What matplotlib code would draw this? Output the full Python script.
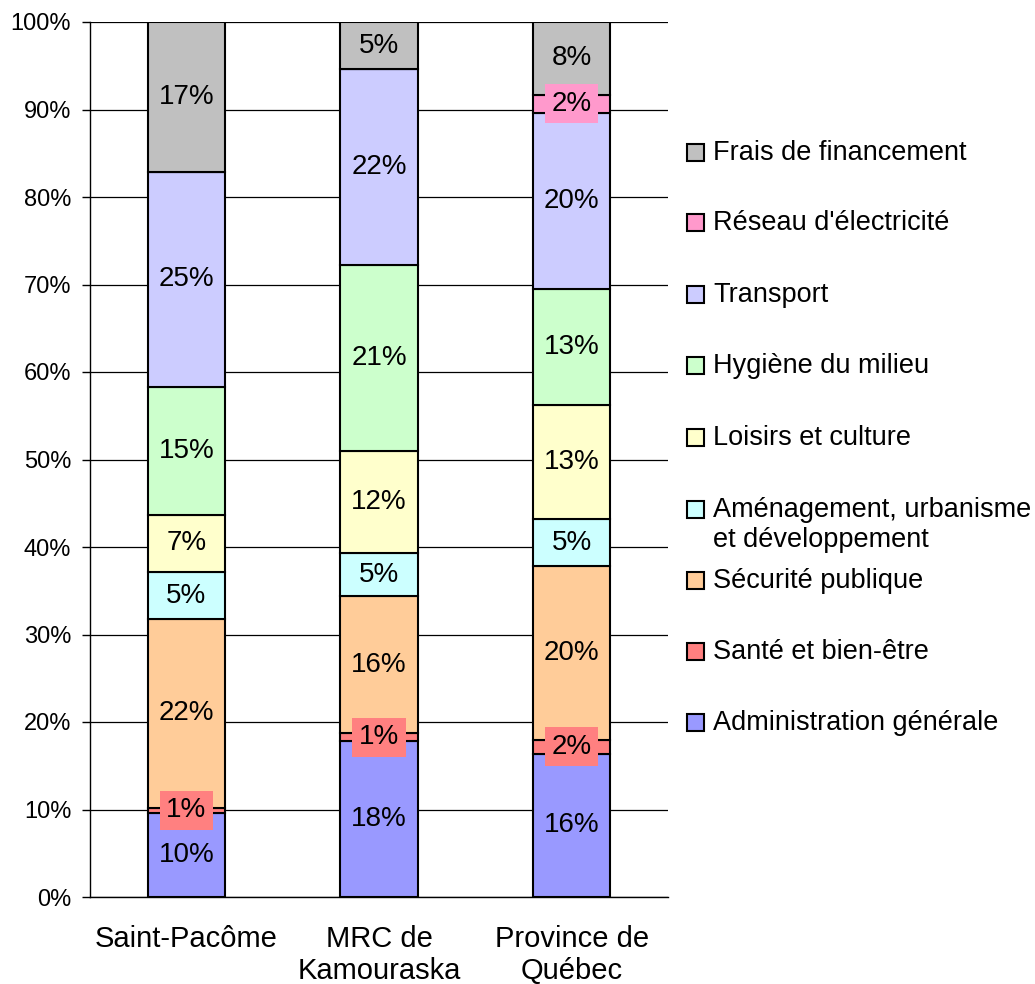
import matplotlib
matplotlib.use("Agg")
import matplotlib.pyplot as plt
from matplotlib.patches import Rectangle
import numpy as np

plt.rcParams['font.family'] = ['Liberation Sans', 'DejaVu Sans']

categories = ["Saint-Pacôme", "MRC de\nKamouraska", "Province de\nQuébec"]
series_names = ["Administration générale", "Santé et bien-être", "Sécurité publique",
                "Aménagement, urbanisme\net développement", "Loisirs et culture",
                "Hygiène du milieu", "Transport", "Réseau d'électricité",
                "Frais de financement"]
admin = [9.6, 17.8, 16.4]
sante = [0.6, 0.9, 1.6]
securite = [21.6, 15.7, 19.8]
amenagement = [5.3, 4.9, 5.4]
loisirs = [6.6, 11.7, 13.0]
hygiene = [14.6, 21.2, 13.3]
transport = [24.6, 22.4, 20.1]
reseau = [0.0, 0.0, 2.1]
frais = [17.1, 5.4, 8.3]
yticks = [0, 10, 20, 30, 40, 50, 60, 70, 80, 90, 100]

series = [admin, sante, securite, amenagement, loisirs, hygiene, transport, reseau, frais]
colors = ["#9999FF", "#FF8080", "#FFCC99", "#CCFFFF", "#FFFFCC",
          "#CCFFCC", "#CCCCFF", "#FF99CC", "#C0C0C0"]

W, H = 1035, 984
fig = plt.figure(figsize=(W / 100, H / 100), dpi=100)
ax = fig.add_axes([90 / W, 1 - 897 / H, (668 - 90) / W, (897 - 22) / H])

x = np.arange(len(categories)) + 0.5
bottom = np.zeros(len(categories))
for vals, col in zip(series, colors):
    v = np.array(vals, dtype=float)
    ax.bar(x, v, width=0.40, bottom=bottom, color=col, edgecolor="black",
           linewidth=1.5, zorder=2)
    for xi, b, h in zip(x, bottom, v):
        if h > 0:
            ax.text(xi, b + h / 2, f"{int(h + 0.5)}%", ha="center", va="center",
                    fontsize=20, zorder=5,
                    bbox=dict(boxstyle="square,pad=0.24", facecolor=col,
                              edgecolor="none"))
    bottom += v

ax.set_xlim(0, 3)
ax.set_ylim(0, 100)
ax.set_yticks(yticks)
ax.set_yticklabels([f"{t}%" for t in yticks], fontsize=17)
ax.set_xticks(x)
ax.set_xticklabels(categories, fontsize=21, linespacing=1.2)
ax.tick_params(axis="y", length=6, width=1, color="black", pad=7.5)
ax.tick_params(axis="x", length=0, pad=20)
ax.yaxis.grid(True, color="black", linewidth=0.9)
ax.set_axisbelow(True)
for s in ["top", "right"]:
    ax.spines[s].set_visible(False)
ax.spines["left"].set_linewidth(1.0)
ax.spines["bottom"].set_linewidth(1.0)

# legend (drawn manually to mimic the original layout)
leg_y = [152, 222, 294, 365, 437, 509, 580, 651, 722]
for name, col, yy in zip(series_names[::-1], colors[::-1], leg_y):
    fig.add_artist(Rectangle((687 / W, 1 - (yy + 9) / H), 17 / W, 17 / H,
                             transform=fig.transFigure, facecolor=col,
                             edgecolor="black", linewidth=1.5))
    fig.text(713 / W, 1 - (yy - 12) / H, name, fontsize=19.5, va="top",
             ha="left", linespacing=1.2, transform=fig.transFigure)

fig.savefig("out.png", dpi=100)
